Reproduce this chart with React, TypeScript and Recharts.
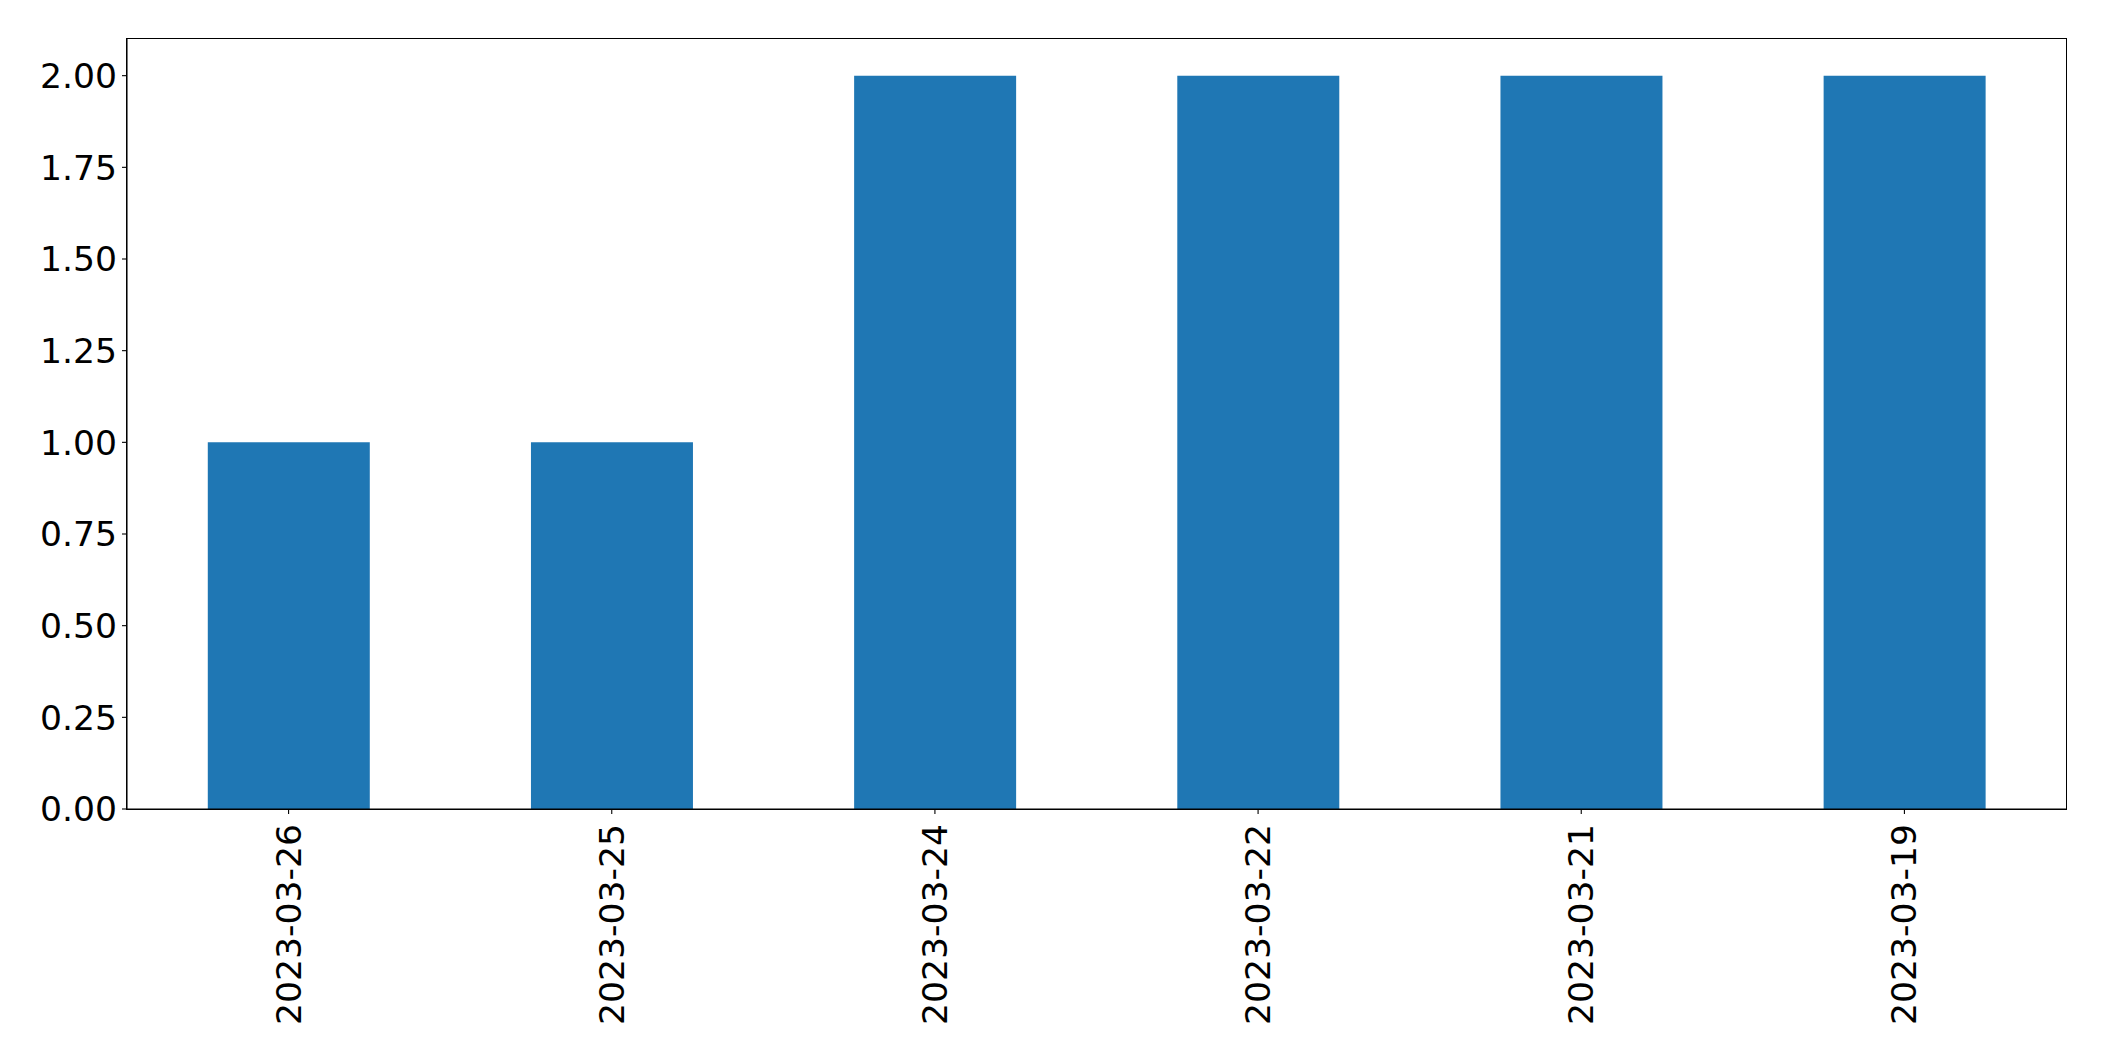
import { Bar, BarChart, XAxis, YAxis } from "recharts";

const dates = [
  "2023-03-26",
  "2023-03-25",
  "2023-03-24",
  "2023-03-22",
  "2023-03-21",
  "2023-03-19",
];
const counts = [1, 1, 2, 2, 2, 2];
const yTicks = [0, 0.25, 0.5, 0.75, 1, 1.25, 1.5, 1.75, 2];

const font = "'DejaVu Sans', sans-serif";
const fontSize = 34.6;

const data = dates.map((date, i) => ({ date, count: counts[i] }));

const DateTick = (props: any) => {
  const { x, y, payload } = props;
  return (
    <text
      transform={`translate(${x},${y + 8}) rotate(-90)`}
      textAnchor="end"
      dominantBaseline="central"
      fontSize={fontSize}
      fontFamily={font}
      fill="#000"
    >
      {payload.value}
    </text>
  );
};

export default function App() {
  return (
    <div style={{ position: "absolute", left: 0, top: 0, background: "#fff" }}>
      <BarChart
        width={2104}
        height={1061}
        data={data}
        barCategoryGap="25%"
        margin={{ top: 39, right: 38, left: 0, bottom: 0 }}
      >
        <XAxis
          dataKey="date"
          height={252}
          interval={0}
          stroke="#000"
          strokeWidth={1.1}
          tickSize={5}
          tick={<DateTick />}
        />
        <YAxis
          width={127}
          domain={[0, 2.1]}
          ticks={yTicks}
          interval={0}
          tickFormatter={(v: number) => v.toFixed(2)}
          stroke="#000"
          strokeWidth={1.1}
          tickSize={5}
          tickMargin={5}
          tick={{ fontSize: fontSize, fontFamily: font, fill: "#000" }}
        />
        <Bar dataKey="count" fill="#1f77b4" isAnimationActive={false} />
      </BarChart>
      {/* plot frame (matplotlib spines) */}
      <div
        style={{
          position: "absolute",
          left: 126,
          top: 38,
          width: 1941,
          height: 772,
          boxSizing: "border-box",
          border: "1px solid #000",
          pointerEvents: "none",
        }}
      />
    </div>
  );
}
